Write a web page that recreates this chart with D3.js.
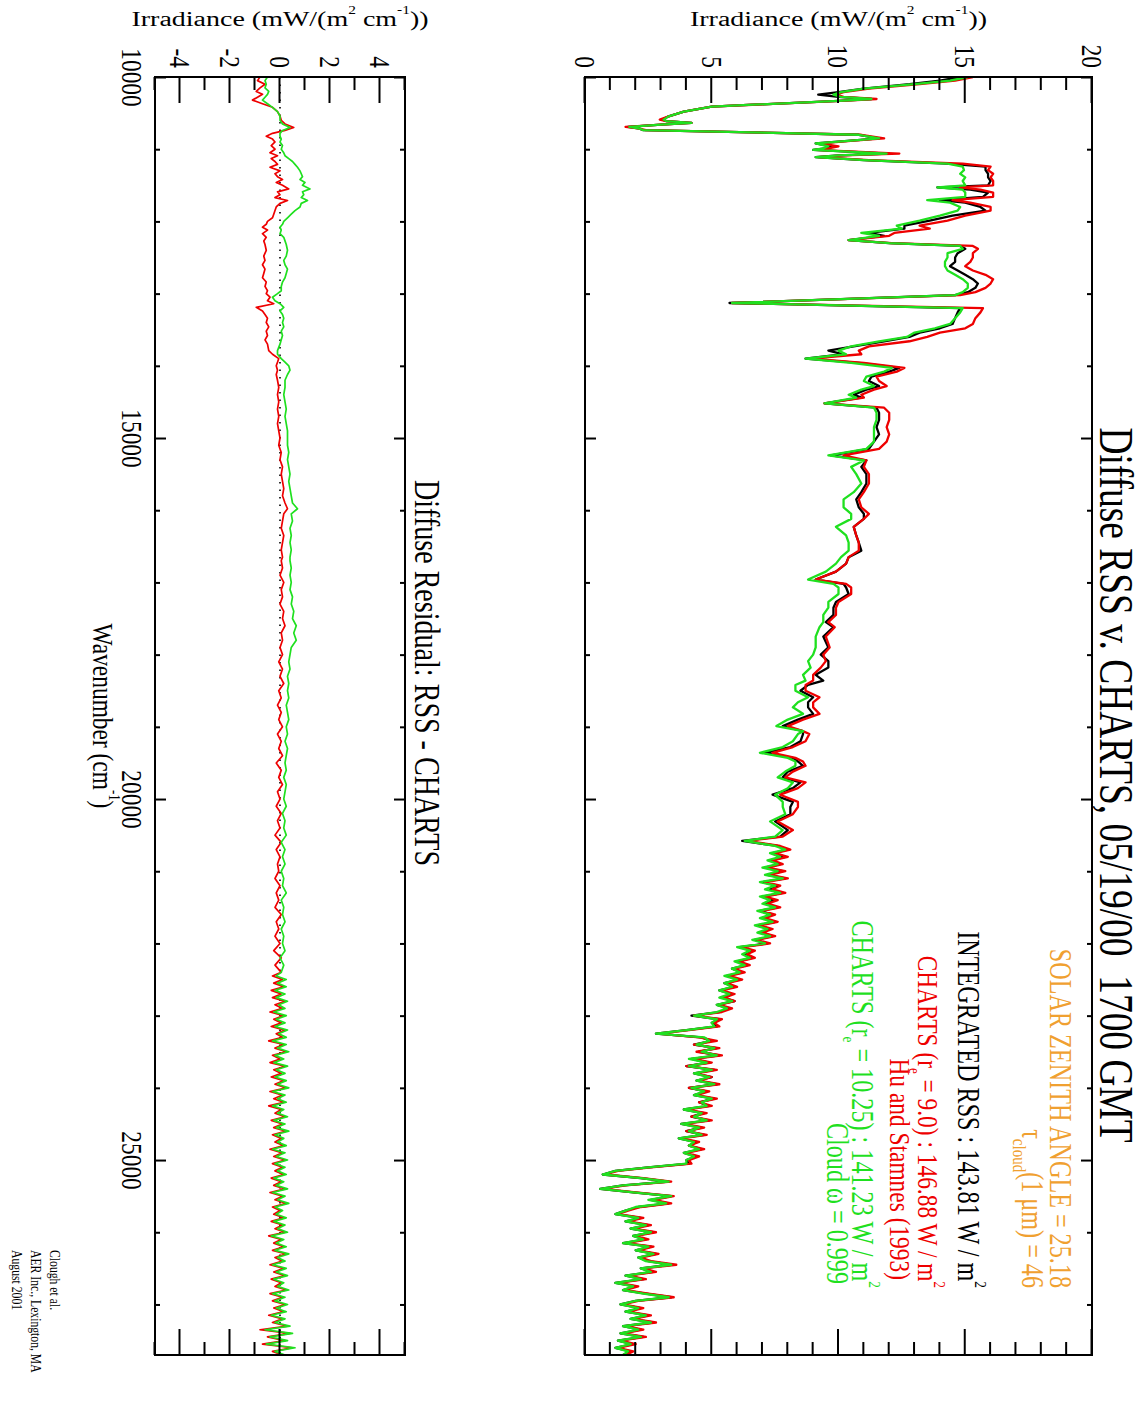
<!DOCTYPE html>
<html>
<head>
<meta charset="utf-8">
<script src="https://cdn.jsdelivr.net/npm/d3@7"></script>
<style>
  html, body { margin: 0; padding: 0; background: #fff; }
  svg text { font-family: "Liberation Serif", "Times New Roman", serif; white-space: pre; }
</style>
</head>
<body>
<svg id="chart" width="1146" height="1424"></svg>
<script>
// ---------------- data ----------------
// Spectral grid (cm^-1) for the diffuse irradiance spectra
const wavenumber = [
  10000,10050,10100,10160,10210,10245,10275,10305,10330,10410,
  10480,10545,10590,10610,10635,10660,10690,10710,10735,10800,
  10850,10880,10920,10960,10990,11010,11060,11085,11110,11150,
  11200,11240,11290,11340,11390,11440,11500,11530,11560,11600,
  11660,11705,11740,11800,11850,11920,11990,12060,12100,12160,
  12200,12260,12300,12340,12380,12440,12500,12560,12620,12680,
  12740,12800,12860,12920,12980,13020,13130,13200,13260,13340,
  13420,13480,13540,13600,13660,13730,13790,13840,13900,13960,
  14030,14080,14150,14210,14280,14330,14400,14440,14520,14580,
  14650,14750,14850,14950,15050,15150,15240,15310,15400,15500,
  15630,15750,15850,15960,16050,16120,16230,16350,16450,16560,
  16650,16740,16850,16960,17020,17070,17160,17270,17350,17450,
  17550,17620,17750,17900,18000,18090,18180,18280,18360,18420,
  18500,18590,18660,18730,18820,18900,18990,19060,19100,19200,
  19280,19360,19430,19480,19540,19620,19700,19770,19850,19940,
  20040,20110,20210,20310,20430,20520,20580,
  20650,20700,20750,20800,20850,20900,20950,21000,21050,21100,
  21150,21200,21250,21300,21350,21400,21450,21500,21550,21600,
  21650,21700,21750,21800,21850,21900,21950,22000,22050,22100,
  22150,22200,22250,22300,22350,22400,22450,22500,22550,22600,
  22650,22700,22750,22800,22850,22900,22950,23000,23050,23100,
  23150,23200,23250,23300,23350,23400,23450,23500,23550,23600,
  23650,23700,23750,23800,23850,23900,23950,24000,24050,24100,
  24150,24200,24250,24300,24350,24400,24450,24500,24550,24600,
  24650,24700,24750,24800,24850,24900,24950,25000,25050,25100,
  25150,25200,25250,25300,25350,25400,25450,25500,25550,25600,
  25650,25700,25750,25800,25850,25900,25950,26000,26050,26100,
  26150,26200,26250,26300,26350,26400,26450,26500,26550,26600,
  26650,26700,26750,26800,26850,26900,26950,27000,27050,27100,
  27150,27200,27250,27300,27350,27400,27450,27500,27550,27600,
  27650,27700
];

// Measured RSS diffuse irradiance, mW/(m2 cm-1)
const rss = [
  14.8,14.0,12.8,11.0,10.0,9.2,10.0,11.3,10.0,5.0,
  3.9,3.3,3.05,3.2,4.2,3.0,1.7,2.1,2.3,10.8,
  11.6,10.5,9.1,9.7,9.5,9.0,12.0,10.0,9.1,11.0,
  14.3,15.8,15.8,15.9,15.9,16.0,15.9,13.9,15.2,15.9,
  15.7,14.0,15.0,15.6,15.8,14.5,13.6,12.6,12.6,11.2,
  11.8,10.4,12.0,14.8,15.0,14.7,14.6,14.6,14.4,14.7,
  15.0,15.3,15.5,15.4,15.1,14.6,5.7,14.8,14.7,14.6,
  14.5,14.0,13.2,12.8,11.8,10.6,9.6,10.2,8.7,10.8,
  12.4,12.0,11.3,11.2,11.6,11.1,10.6,10.9,9.45,11.5,
  11.6,11.6,11.5,11.6,11.4,11.2,9.7,11.1,10.9,11.1,
  11.1,10.9,10.7,10.8,11.0,11.0,10.6,10.7,10.8,10.9,
  10.4,10.3,9.9,9.1,10.2,10.3,10.4,9.9,9.8,9.8,
  9.5,9.8,9.4,9.6,9.3,9.6,9.6,9.1,9.4,8.8,
  8.5,9.0,8.8,8.8,9.0,8.4,7.8,8.6,8.6,8.5,
  8.1,7.1,8.2,8.4,8.6,8.0,7.8,8.5,8.2,7.4,
  8.2,8.1,8.1,7.5,8.0,7.7,6.2,
  7.6,8.0,7.4,7.9,7.3,7.7,7.1,7.8,7.2,7.9,
  7.0,7.6,7.3,7.8,7.0,7.5,7.1,7.6,6.9,7.4,
  7.0,7.5,6.8,7.3,6.9,7.4,6.7,7.2,6.1,6.6,
  6.3,6.6,6.0,6.4,5.8,6.2,5.6,6.1,5.5,5.9,
  5.3,5.8,5.4,5.9,5.2,5.7,5.3,4.2,5.3,5.0,
  5.2,4.0,2.8,4.6,5.0,4.3,5.2,4.5,5.3,4.2,
  4.9,4.0,5.1,4.3,5.0,4.4,5.2,4.1,4.8,4.3,
  5.1,4.5,4.9,3.9,4.7,4.2,4.9,3.8,4.6,4.0,
  4.7,3.7,4.4,4.1,4.6,3.9,4.4,4.0,4.1,2.5,
  1.2,0.7,2.2,3.3,1.5,0.6,2.0,3.4,2.6,3.3,
  2.1,1.6,1.2,2.2,1.6,2.5,1.8,2.7,1.9,2.4,
  1.5,2.6,2.0,2.8,2.1,2.5,3.4,2.2,2.7,1.6,
  2.3,1.2,2.0,1.5,2.4,3.4,2.0,1.4,2.2,1.6,
  2.5,1.8,2.7,1.5,2.2,1.4,2.3,1.3,1.9,1.2,
  1.8,1.5
];

// CHARTS, r_e = 9.0 (Hu and Stamnes 1993)
const chartsHu = [
  15.3,14.6,13.2,11.2,10.2,9.9,10.2,11.5,10.1,5.0,
  3.9,3.3,2.95,3.2,4.2,3.0,1.6,2.1,2.4,10.9,
  11.8,10.6,9.3,10.0,9.6,9.1,12.4,10.2,9.2,11.2,
  14.9,16.0,15.9,16.1,16.0,16.1,16.1,14.8,15.6,16.1,
  16.1,14.5,15.2,16.0,16.0,15.0,14.3,13.2,13.6,12.2,
  12.0,10.4,12.1,15.3,15.5,15.3,15.3,15.2,15.0,15.3,
  15.8,16.1,16.0,15.8,15.4,14.8,5.8,15.7,15.6,15.4,
  15.3,15.0,14.0,13.5,12.8,11.2,10.8,10.9,8.9,11.0,
  12.6,12.3,11.5,11.6,11.9,11.4,10.9,11.0,9.45,11.8,
  12.0,12.0,11.9,12.0,11.9,11.6,10.2,11.1,11.0,11.2,
  11.2,11.0,10.8,10.9,11.2,11.0,10.6,10.7,10.8,10.8,
  10.4,10.3,9.9,9.1,10.3,10.5,10.5,10.0,9.9,9.9,
  9.6,9.85,9.5,9.65,9.4,9.5,9.3,9.0,9.0,8.7,
  8.7,9.25,9.0,9.0,9.25,8.6,8.0,8.6,8.85,8.7,
  8.2,7.4,8.3,8.6,8.7,8.2,7.9,8.7,8.4,7.7,
  8.4,8.4,8.2,7.6,8.2,7.8,6.4,
  7.7,8.1,7.5,8.0,7.4,7.8,7.2,7.9,7.3,8.0,
  7.1,7.7,7.4,7.9,7.1,7.6,7.2,7.7,7.0,7.5,
  7.1,7.6,6.9,7.4,7.0,7.5,6.8,7.3,6.2,6.7,
  6.4,6.7,6.1,6.5,5.9,6.3,5.7,6.2,5.6,6.0,
  5.4,5.9,5.5,5.9,5.3,5.8,5.4,4.3,5.4,5.1,
  5.3,4.1,2.9,4.5,5.2,4.3,5.3,4.4,5.4,4.3,
  5.0,4.0,5.2,4.4,5.0,4.5,5.3,4.1,4.9,4.4,
  5.2,4.5,5.0,4.0,4.8,4.2,5.0,3.9,4.7,4.0,
  4.8,3.8,4.5,4.1,4.7,4.0,4.5,4.1,4.2,2.6,
  1.3,0.8,2.3,3.4,1.6,0.7,2.1,3.5,2.7,3.4,
  2.2,1.7,1.3,2.3,1.7,2.6,1.9,2.8,2.0,2.5,
  1.6,2.7,2.1,2.9,2.2,2.6,3.6,2.3,2.8,1.7,
  2.4,1.3,2.1,1.6,2.5,3.5,2.1,1.5,2.3,1.7,
  2.6,1.9,2.8,1.6,2.3,1.5,2.4,1.4,2.0,1.3,
  1.9,1.6
];

// CHARTS, r_e = 10.25, cloud single-scattering albedo 0.999
const chartsCloud = [
  15.1,14.4,13.0,11.0,10.1,9.8,10.1,11.3,10.0,5.0,
  3.9,3.3,3.1,3.2,4.2,3.0,1.75,2.1,2.3,10.8,
  11.6,10.5,9.1,9.6,9.4,9.0,11.9,10.0,9.1,11.0,
  14.3,14.9,14.95,14.8,15.0,14.9,15.0,13.9,14.9,15.0,
  15.0,13.5,14.4,14.8,14.7,14.0,13.2,12.3,12.5,10.9,
  11.6,10.4,12.0,14.8,14.9,14.3,14.3,14.2,14.2,14.3,
  14.6,14.9,15.1,15.1,14.9,14.6,5.8,14.9,14.8,14.6,
  14.4,13.8,13.0,12.7,11.6,10.5,10.0,10.3,8.7,10.5,
  12.1,11.8,11.1,11.0,11.4,10.9,10.4,10.7,9.45,11.4,
  11.5,11.5,11.4,11.4,11.4,11.1,9.6,11.0,10.5,10.7,
  10.9,10.6,10.2,10.2,10.5,10.5,9.9,10.3,10.4,10.4,
  10.1,9.9,9.5,8.8,9.8,10.0,10.0,9.6,9.6,9.4,
  9.4,9.25,9.1,9.1,9.0,8.8,8.9,8.6,8.7,8.3,
  8.3,8.8,8.4,8.2,8.6,8.0,7.55,8.6,8.4,8.2,
  7.8,6.9,8.0,8.3,8.3,7.9,7.6,8.2,8.0,7.5,
  7.8,7.8,7.9,7.3,7.8,7.5,6.3,
  7.5,7.9,7.3,7.7,7.2,7.6,7.0,7.6,7.1,7.8,
  6.9,7.5,7.1,7.7,6.9,7.3,7.0,7.5,6.8,7.3,
  6.9,7.4,6.7,7.2,6.8,7.3,6.6,7.1,6.0,6.5,
  6.2,6.5,5.9,6.3,5.8,6.1,5.5,6.0,5.5,5.8,
  5.3,5.7,5.3,5.8,5.2,5.6,5.2,4.3,5.2,5.0,
  5.1,4.0,2.8,4.7,4.9,4.4,5.1,4.6,5.2,4.1,
  4.8,4.1,5.0,4.3,4.9,4.4,5.1,4.2,4.7,4.3,
  5.0,4.6,4.8,3.9,4.6,4.3,4.8,3.8,4.5,4.1,
  4.6,3.7,4.3,4.1,4.5,3.9,4.3,4.0,4.0,2.5,
  1.2,0.7,2.2,3.3,1.5,0.6,2.0,3.4,2.5,3.2,
  2.0,1.6,1.2,2.1,1.6,2.4,1.8,2.6,1.9,2.3,
  1.5,2.5,2.0,2.7,2.1,2.4,3.4,2.2,2.6,1.6,
  2.2,1.2,1.9,1.5,2.3,3.3,2.0,1.4,2.1,1.6,
  2.4,1.8,2.6,1.5,2.1,1.4,2.2,1.3,1.8,1.2,
  1.7,1.5
];

// Residual grid (cm^-1)
const residWavenumber = [
  10000,10050,10100,10150,10200,10240,10280,10320,10370,10420,
  10480,10540,10600,10650,10700,10740,10780,10820,10860,10900,
  10950,11000,11050,11090,11130,11170,11210,11250,11300,11340,
  11380,11420,11460,11500,11550,11590,11630,11670,11710,11750,
  11800,11850,11900,11950,12000,12040,12080,12120,12170,12220,
  12270,12320,12400,12480,12540,12600,12660,12720,12780,12840,
  12900,12960,13000,13050,13100,13140,13190,13240,13290,13340,
  13400,13460,13520,13580,13640,13700,13790,13840,13900,13950,
  14000,14060,14120,14200,14300,14400,14500,14600,14700,14800,
  14900,15000,15100,15200,15300,15400,15500,15600,15700,15800,
  15900,15980,16050,16150,16250,16350,16450,16550,16650,
  16700,16800,16900,17000,17100,17200,17300,17400,17500,17600,
  17700,17800,17900,18000,18100,18200,18300,18400,18500,18600,
  18700,18800,18900,19000,19100,19200,19300,19400,19500,19600,
  19700,19800,19900,20000,20100,20200,20300,20400,20500,20600,
  20700,20800,20900,21000,21100,21200,21300,21400,21500,21600,
  21700,21800,21900,22000,22100,22200,22300,22400,
  22450,22500,22550,22600,22650,22700,22750,22800,22850,22900,
  22950,23000,23050,23100,23150,23200,23250,23300,23350,23400,
  23450,23500,23550,23600,23650,23700,23750,23800,23850,23900,
  23950,24000,24050,24100,24150,24200,24250,24300,24350,24400,
  24450,24500,24550,24600,24650,24700,24750,24800,24850,24900,
  24950,25000,25050,25100,25150,25200,25250,25300,25350,25400,
  25450,25500,25550,25600,25650,25700,25750,25800,25850,25900,
  25950,26000,26050,26100,26150,26200,26250,26300,26350,26400,
  26450,26500,26550,26600,26650,26700,26750,26800,26850,26900,
  26950,27000,27050,27100,27150,27200,27250,27300,27350,27400,
  27450,27500,27550,27600,27650,27700
];

// RSS minus CHARTS (r_e = 9.0)
const residHu = [
  -0.8,-0.9,-0.6,-0.8,-0.95,-0.7,-0.9,-1.1,-0.7,-0.3,
  -0.1,0.0,0.05,0.2,0.55,0.2,-0.3,-0.55,-0.3,-0.2,
  -0.35,-0.2,-0.4,-0.1,-0.35,-0.2,-0.1,-0.4,0.0,-0.2,
  -0.1,0.1,-0.15,0.1,0.35,-0.1,0.0,-0.2,0.3,0.0,
  -0.15,-0.2,-0.25,-0.3,-0.5,-0.55,-0.7,-0.5,-0.7,-0.55,
  -0.65,-0.6,-0.55,-0.65,-0.6,-0.7,-0.6,-0.65,-0.7,-0.55,
  -0.6,-0.5,-0.55,-0.4,-0.5,-0.25,-0.95,-0.7,-0.6,-0.5,
  -0.55,-0.45,-0.55,-0.5,-0.6,-0.5,-0.45,-0.3,-0.05,-0.1,
  -0.15,-0.1,-0.15,-0.1,-0.05,-0.1,-0.05,-0.1,-0.05,-0.1,
  -0.05,0.0,-0.05,0.05,0.0,0.1,0.05,0.1,0.15,0.1,
  0.2,0.3,0.15,0.1,0.05,0.15,0.1,0.05,0.1,
  0.05,0.10,0.00,0.15,0.05,0.10,0.00,0.15,0.10,0.20,
  0.05,0.10,0.00,0.10,-0.05,0.10,0.00,0.15,-0.05,0.05,
  -0.10,0.05,-0.05,0.10,-0.10,0.05,-0.05,0.10,-0.15,0.05,
  -0.05,0.10,-0.10,0.00,-0.15,0.05,-0.10,0.00,-0.20,0.05,
  -0.15,0.00,-0.10,-0.05,-0.20,0.00,-0.15,-0.05,-0.20,0.05,
  -0.15,-0.05,-0.20,0.00,-0.25,0.05,-0.20,0.05,
  -0.30,0.10,-0.25,0.15,-0.35,0.05,-0.30,0.20,-0.20,0.10,
  -0.40,0.15,-0.25,0.05,-0.35,0.20,-0.15,0.10,-0.45,0.15,
  -0.20,0.25,-0.30,0.00,-0.40,0.20,-0.25,0.05,-0.35,0.15,
  -0.20,0.25,-0.40,0.10,-0.25,0.15,-0.45,0.05,-0.20,0.20,
  -0.35,0.10,-0.25,0.25,-0.30,0.05,-0.20,0.15,-0.40,0.10,
  -0.25,0.20,-0.30,0.10,-0.20,0.15,-0.35,0.05,-0.25,0.20,
  -0.40,0.10,-0.20,0.25,-0.30,0.00,-0.25,0.15,-0.35,0.10,
  -0.20,0.20,-0.45,0.05,-0.25,0.15,-0.30,0.25,-0.20,0.10,
  -0.40,0.15,-0.25,0.20,-0.35,0.05,-0.20,0.25,-0.40,0.10,
  -0.30,0.20,-0.25,0.15,-0.45,0.10,-0.30,0.30,-0.80,0.40,
  -0.50,0.20,-0.70,0.50,-0.30,0.10
];

// RSS minus CHARTS (r_e = 10.25)
const residCloud = [
  -0.5,-0.6,-0.55,-0.6,-0.45,-0.5,-0.6,-0.7,-0.5,-0.3,
  -0.1,0.0,0.0,0.1,0.4,0.1,0.0,0.0,0.05,0.0,
  0.1,0.05,0.15,0.2,0.35,0.5,0.6,0.7,0.8,0.85,
  0.9,0.8,1.0,0.9,1.2,0.9,0.95,0.85,1.1,0.85,
  0.8,0.6,0.45,0.3,0.15,0.1,0.0,0.05,0.0,0.15,
  0.2,0.25,0.3,0.25,0.15,0.2,0.3,0.25,0.2,0.1,
  0.05,0.05,-0.1,-0.3,-0.2,0.0,0.15,0.0,0.1,0.15,
  0.1,0.15,0.05,0.1,0.05,0.0,-0.1,-0.1,0.05,0.2,
  0.35,0.4,0.3,0.2,0.2,0.15,0.2,0.25,0.2,0.25,
  0.3,0.3,0.3,0.35,0.3,0.35,0.4,0.35,0.4,0.45,
  0.5,0.7,0.45,0.5,0.4,0.45,0.4,0.45,0.4,
  0.40,0.45,0.40,0.45,0.40,0.50,0.45,0.55,0.50,0.65,
  0.55,0.65,0.45,0.40,0.35,0.40,0.30,0.35,0.30,0.35,
  0.25,0.30,0.35,0.25,0.30,0.20,0.30,0.25,0.20,0.25,
  0.15,0.25,0.20,0.15,0.25,0.10,0.20,0.15,0.25,0.05,
  0.20,0.10,0.20,0.05,0.15,0.10,0.25,0.05,0.15,0.10,
  0.20,0.05,0.15,0.10,0.20,0.00,0.15,0.05,
  -0.15,0.25,-0.10,0.25,-0.20,0.20,-0.15,0.30,-0.05,0.20,
  -0.25,0.25,-0.15,0.20,-0.20,0.30,-0.05,0.25,-0.30,0.25,
  -0.10,0.35,-0.20,0.15,-0.25,0.30,-0.15,0.20,-0.20,0.25,
  -0.10,0.35,-0.30,0.20,-0.10,0.25,-0.30,0.15,-0.10,0.30,
  -0.25,0.20,-0.15,0.35,-0.20,0.15,-0.10,0.25,-0.30,0.20,
  -0.15,0.30,-0.20,0.20,-0.10,0.25,-0.25,0.15,-0.15,0.30,
  -0.30,0.20,-0.10,0.35,-0.20,0.10,-0.15,0.25,-0.25,0.20,
  -0.10,0.30,-0.35,0.15,-0.15,0.25,-0.20,0.35,-0.10,0.20,
  -0.30,0.25,-0.15,0.30,-0.25,0.15,-0.10,0.35,-0.30,0.20,
  -0.20,0.30,-0.15,0.25,-0.35,0.20,-0.20,0.40,-0.60,0.50,
  -0.40,0.30,-0.55,0.60,-0.20,0.20
];

// Axis ticks
const wavenumberTicks = [10000, 15000, 20000, 25000];
const irradianceTicks = [0, 5, 10, 15, 20];
const residualTicks = [-4, -2, 0, 2, 4];

// ---------------- layout ----------------
const W = 1146, H = 1424;
const SQ = 0.78;              // glyph width factor used for all figure text
const plotLeft = 77, plotRight = 1355;
const topPanel = { top: 54, bottom: 561 };
const resPanel = { top: 741, bottom: 991 };

const colors = { rss: "#000000", hu: "#ee0000", cloud: "#1fe01f", info: "#f0a030" };

const svg = d3.select("#chart");
svg.append("rect").attr("width", W).attr("height", H).attr("fill", "#fff");

// The figure is laid out in landscape and turned a quarter-turn clockwise onto the page.
const fig = svg.append("g").attr("transform", `translate(${W},0) rotate(90)`);

const x = d3.scaleLinear().domain([10000, 27700]).range([plotLeft, plotRight]);
const yTop = d3.scaleLinear().domain([0, 20]).range([topPanel.bottom, topPanel.top]);
const yRes = d3.scaleLinear().domain([-5, 5]).range([resPanel.bottom, resPanel.top]);

const wnMinor = d3.range(11000, 27700, 1000).filter(v => v % 5000 !== 0);

function styleAxis(g, width) {
  g.select(".domain").remove();
  g.selectAll(".tick line").attr("stroke", "#000").attr("stroke-width", width);
}

function drawPanel(panel, yScale, majorVals, minorVals, majorLen, minorLen, showWnLabels) {
  const g = fig.append("g");
  const h = panel.bottom - panel.top;

  // wavenumber ticks on top and bottom edges
  [[d3.axisTop, panel.top], [d3.axisBottom, panel.bottom]].forEach(([ax, yy]) => {
    g.append("g").attr("transform", `translate(0,${yy})`)
      .call(ax(x).tickValues(wnMinor).tickSize(-5).tickFormat(""))
      .call(s => styleAxis(s, 2));
    const major = g.append("g").attr("transform", `translate(0,${yy})`)
      .call(ax(x).tickValues(wavenumberTicks).tickSize(-11).tickPadding(12)
        .tickFormat(showWnLabels && ax === d3.axisBottom ? (d => String(d)) : ""))
      .call(s => styleAxis(s, 2));
    major.selectAll("text")
      .attr("font-size", 30).attr("fill", "#000")
      .attr("font-family", "Liberation Serif")
      .attr("transform", `scale(${SQ},1)`);
  });

  // value ticks on left and right edges
  [[d3.axisLeft, plotLeft], [d3.axisRight, plotRight]].forEach(([ax, xx]) => {
    g.append("g").attr("transform", `translate(${xx},0)`)
      .call(ax(yScale).tickValues(minorVals).tickSize(-minorLen).tickFormat(""))
      .call(s => styleAxis(s, 2));
    const major = g.append("g").attr("transform", `translate(${xx},0)`)
      .call(ax(yScale).tickValues(majorVals).tickSize(-majorLen).tickPadding(11.5)
        .tickFormat(ax === d3.axisLeft ? (d => String(d)) : ""))
      .call(s => styleAxis(s, 2));
    major.selectAll("text")
      .attr("font-size", 30).attr("fill", "#000")
      .attr("font-family", "Liberation Serif")
      .attr("transform", `scale(${SQ},1)`);
  });

  g.append("rect")
    .attr("x", plotLeft).attr("y", panel.top)
    .attr("width", plotRight - plotLeft).attr("height", h)
    .attr("fill", "none").attr("stroke", "#000").attr("stroke-width", 2);
  return g;
}

// ---------------- upper panel: spectra ----------------
fig.append("clipPath").attr("id", "clipTop").append("rect")
  .attr("x", plotLeft).attr("y", topPanel.top)
  .attr("width", plotRight - plotLeft).attr("height", topPanel.bottom - topPanel.top);

const specLine = d3.line().x(d => x(d[0])).y(d => yTop(d[1]));
const specG = fig.append("g").attr("clip-path", "url(#clipTop)");
[[rss, colors.rss], [chartsHu, colors.hu], [chartsCloud, colors.cloud]].forEach(([vals, c]) => {
  specG.append("path")
    .datum(wavenumber.map((w, i) => [w, vals[i]]))
    .attr("d", specLine)
    .attr("fill", "none").attr("stroke", c)
    .attr("stroke-width", 2.3).attr("stroke-linejoin", "round");
});

drawPanel(topPanel, yTop, irradianceTicks, d3.range(1, 20).filter(v => v % 5 !== 0), 26, 13, false);

// ---------------- lower panel: residuals ----------------
fig.append("clipPath").attr("id", "clipRes").append("rect")
  .attr("x", plotLeft).attr("y", resPanel.top)
  .attr("width", plotRight - plotLeft).attr("height", resPanel.bottom - resPanel.top);
const resG = fig.append("g").attr("clip-path", "url(#clipRes)");

resG.append("line")
  .attr("x1", x(10000)).attr("x2", x(27700))
  .attr("y1", yRes(0)).attr("y2", yRes(0))
  .attr("stroke", "#000").attr("stroke-width", 1.6)
  .attr("stroke-dasharray", "1.5 6");

const resLine = d3.line().x(d => x(d[0])).y(d => yRes(d[1]));
[[residHu, colors.hu], [residCloud, colors.cloud]].forEach(([vals, c]) => {
  resG.append("path")
    .datum(residWavenumber.map((w, i) => [w, vals[i]]))
    .attr("d", resLine)
    .attr("fill", "none").attr("stroke", c)
    .attr("stroke-width", 1.7).attr("stroke-linejoin", "round");
});

drawPanel(resPanel, yRes, residualTicks, [-5, -3, -1, 1, 3, 5], 26, 13, true);

// ---------------- text ----------------
// parts: [text, "sub" | "sup" | undefined]
function rich(parent, px, py, parts, opts) {
  const t = parent.append("text")
    .attr("transform", `translate(${px},${py}) scale(${SQ},1)` + (opts.rotate ? ` rotate(${opts.rotate})` : ""))
    .attr("text-anchor", opts.anchor || "start")
    .attr("font-size", opts.size)
    .attr("fill", opts.fill || "#000");
  let shift = 0;
  parts.forEach(([s, kind]) => {
    const target = kind === "sub" ? 0.3 : kind === "sup" ? -0.55 : 0;
    const ts = t.append("tspan").text(s);
    if (kind) ts.attr("font-size", opts.size * (opts.scriptScale || 0.55));
    const dyPx = (target - shift) * opts.size;
    if (dyPx !== 0) ts.attr("dy", dyPx);
    shift = target;
  });
  return t;
}

// titles
rich(fig, 785, 46, [["Diffuse RSS v. CHARTS, 05/19/00  1700 GMT"]], { size: 48, anchor: "middle" });
rich(fig, 673, 731, [["Diffuse Residual: RSS - CHARTS"]], { size: 36, anchor: "middle" });

// axis titles
const irrTitle = [["Irradiance (mW/(m"], ["2", "sup"], [" cm"], ["-1", "sup"], ["))"]];
rich(fig, 26, (topPanel.top + topPanel.bottom) / 2, irrTitle, { size: 28, anchor: "middle", rotate: -90 });
rich(fig, 26, (resPanel.top + resPanel.bottom) / 2, irrTitle, { size: 28, anchor: "middle", rotate: -90 });
rich(fig, (plotLeft + plotRight) / 2, 1053, [["Wavenumber (cm"], ["-1", "sup"], [")"]], { size: 30, anchor: "middle" });

// annotation block
const noteX = 1288;
rich(fig, noteX, 96, [["SOLAR ZENITH ANGLE = 25.18"]], { size: 31, anchor: "end", fill: colors.info });
rich(fig, noteX, 124, [["τ"], ["cloud", "sub"], ["(1 μm) = 46"]], { size: 31, anchor: "end", fill: colors.info, scriptScale: 0.62 });
rich(fig, noteX, 188, [["INTEGRATED RSS : 143.81 W / m"], ["2", "sup"]], { size: 31, anchor: "end", fill: colors.rss });
rich(fig, noteX, 228, [["CHARTS (r"], ["e", "sub"], [" = 9.0) : 146.88 W / m"], ["2", "sup"]], { size: 30, anchor: "end", fill: colors.hu });
rich(fig, noteX - 8, 256, [["Hu and Stamnes (1993)"]], { size: 30, anchor: "end", fill: colors.hu });
rich(fig, noteX, 294, [["CHARTS (r"], ["e", "sub"], [" = 10.25) : 141.23 W / m"], ["2", "sup"]], { size: 31, anchor: "end", fill: colors.cloud });
rich(fig, noteX - 4, 319, [["Cloud ω = 0.999"]], { size: 31, anchor: "end", fill: colors.cloud });

// credit
rich(fig, 1250, 1096, [["Clough et al."]], { size: 15 });
rich(fig, 1250, 1115, [["AER Inc., Lexington, MA"]], { size: 15 });
rich(fig, 1250, 1134, [["August 2001"]], { size: 15 });
</script>
</body>
</html>
